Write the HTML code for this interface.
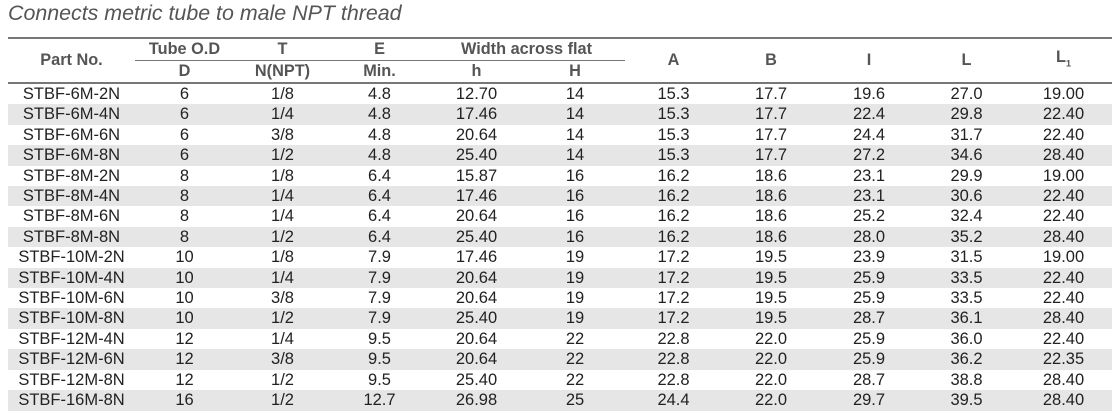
<!DOCTYPE html><html><head><style>
body{margin:0;width:1118px;height:417px;background:#fff;font-family:"Liberation Sans",sans-serif;overflow:hidden}
.t{position:absolute;left:8px;top:1px;font-style:italic;font-size:21.4px;color:#555}
table{position:absolute;left:8px;top:37px;width:1104px;border-collapse:collapse;table-layout:fixed}
td,th{padding:0;text-align:center;font-size:16.5px;line-height:20.4px;height:20.4px;color:#222}
th{color:#555;font-weight:bold;font-size:16.3px;height:21px;line-height:21px}
thead tr:first-child th{border-top:2px solid #777}
thead tr:last-child th,th.r{border-bottom:2px solid #777}
.s{border-bottom:1.5px solid #777}
tbody tr:nth-child(even) td{background:#e6e6e6}
</style></head><body>
<div class="t">Connects metric tube to male NPT thread</div>
<table>
<colgroup><col style="width:127px"><col style="width:99px"><col style="width:97px"><col style="width:97px"><col style="width:97px"><col style="width:100px"><col style="width:97px"><col style="width:98px"><col style="width:98px"><col style="width:97px"><col style="width:97px"></colgroup>
<thead><tr><th rowspan="2" class="r">Part No.</th><th class="s">Tube O.D</th><th class="s">T</th><th class="s">E</th><th colspan="2" class="s">Width across flat</th><th rowspan="2" class="r">A</th><th rowspan="2" class="r">B</th><th rowspan="2" class="r">I</th><th rowspan="2" class="r">L</th><th rowspan="2" class="r">L<sub style="font-size:9px">1</sub></th></tr>
<tr><th>D</th><th>N(NPT)</th><th>Min.</th><th>h</th><th>H</th></tr></thead>
<tbody>
<tr><td>STBF-6M-2N</td><td>6</td><td>1/8</td><td>4.8</td><td>12.70</td><td>14</td><td>15.3</td><td>17.7</td><td>19.6</td><td>27.0</td><td>19.00</td></tr>
<tr><td>STBF-6M-4N</td><td>6</td><td>1/4</td><td>4.8</td><td>17.46</td><td>14</td><td>15.3</td><td>17.7</td><td>22.4</td><td>29.8</td><td>22.40</td></tr>
<tr><td>STBF-6M-6N</td><td>6</td><td>3/8</td><td>4.8</td><td>20.64</td><td>14</td><td>15.3</td><td>17.7</td><td>24.4</td><td>31.7</td><td>22.40</td></tr>
<tr><td>STBF-6M-8N</td><td>6</td><td>1/2</td><td>4.8</td><td>25.40</td><td>14</td><td>15.3</td><td>17.7</td><td>27.2</td><td>34.6</td><td>28.40</td></tr>
<tr><td>STBF-8M-2N</td><td>8</td><td>1/8</td><td>6.4</td><td>15.87</td><td>16</td><td>16.2</td><td>18.6</td><td>23.1</td><td>29.9</td><td>19.00</td></tr>
<tr><td>STBF-8M-4N</td><td>8</td><td>1/4</td><td>6.4</td><td>17.46</td><td>16</td><td>16.2</td><td>18.6</td><td>23.1</td><td>30.6</td><td>22.40</td></tr>
<tr><td>STBF-8M-6N</td><td>8</td><td>1/4</td><td>6.4</td><td>20.64</td><td>16</td><td>16.2</td><td>18.6</td><td>25.2</td><td>32.4</td><td>22.40</td></tr>
<tr><td>STBF-8M-8N</td><td>8</td><td>1/2</td><td>6.4</td><td>25.40</td><td>16</td><td>16.2</td><td>18.6</td><td>28.0</td><td>35.2</td><td>28.40</td></tr>
<tr><td>STBF-10M-2N</td><td>10</td><td>1/8</td><td>7.9</td><td>17.46</td><td>19</td><td>17.2</td><td>19.5</td><td>23.9</td><td>31.5</td><td>19.00</td></tr>
<tr><td>STBF-10M-4N</td><td>10</td><td>1/4</td><td>7.9</td><td>20.64</td><td>19</td><td>17.2</td><td>19.5</td><td>25.9</td><td>33.5</td><td>22.40</td></tr>
<tr><td>STBF-10M-6N</td><td>10</td><td>3/8</td><td>7.9</td><td>20.64</td><td>19</td><td>17.2</td><td>19.5</td><td>25.9</td><td>33.5</td><td>22.40</td></tr>
<tr><td>STBF-10M-8N</td><td>10</td><td>1/2</td><td>7.9</td><td>25.40</td><td>19</td><td>17.2</td><td>19.5</td><td>28.7</td><td>36.1</td><td>28.40</td></tr>
<tr><td>STBF-12M-4N</td><td>12</td><td>1/4</td><td>9.5</td><td>20.64</td><td>22</td><td>22.8</td><td>22.0</td><td>25.9</td><td>36.0</td><td>22.40</td></tr>
<tr><td>STBF-12M-6N</td><td>12</td><td>3/8</td><td>9.5</td><td>20.64</td><td>22</td><td>22.8</td><td>22.0</td><td>25.9</td><td>36.2</td><td>22.35</td></tr>
<tr><td>STBF-12M-8N</td><td>12</td><td>1/2</td><td>9.5</td><td>25.40</td><td>22</td><td>22.8</td><td>22.0</td><td>28.7</td><td>38.8</td><td>28.40</td></tr>
<tr><td>STBF-16M-8N</td><td>16</td><td>1/2</td><td>12.7</td><td>26.98</td><td>25</td><td>24.4</td><td>22.0</td><td>29.7</td><td>39.5</td><td>28.40</td></tr>
</tbody></table>
</body></html>
